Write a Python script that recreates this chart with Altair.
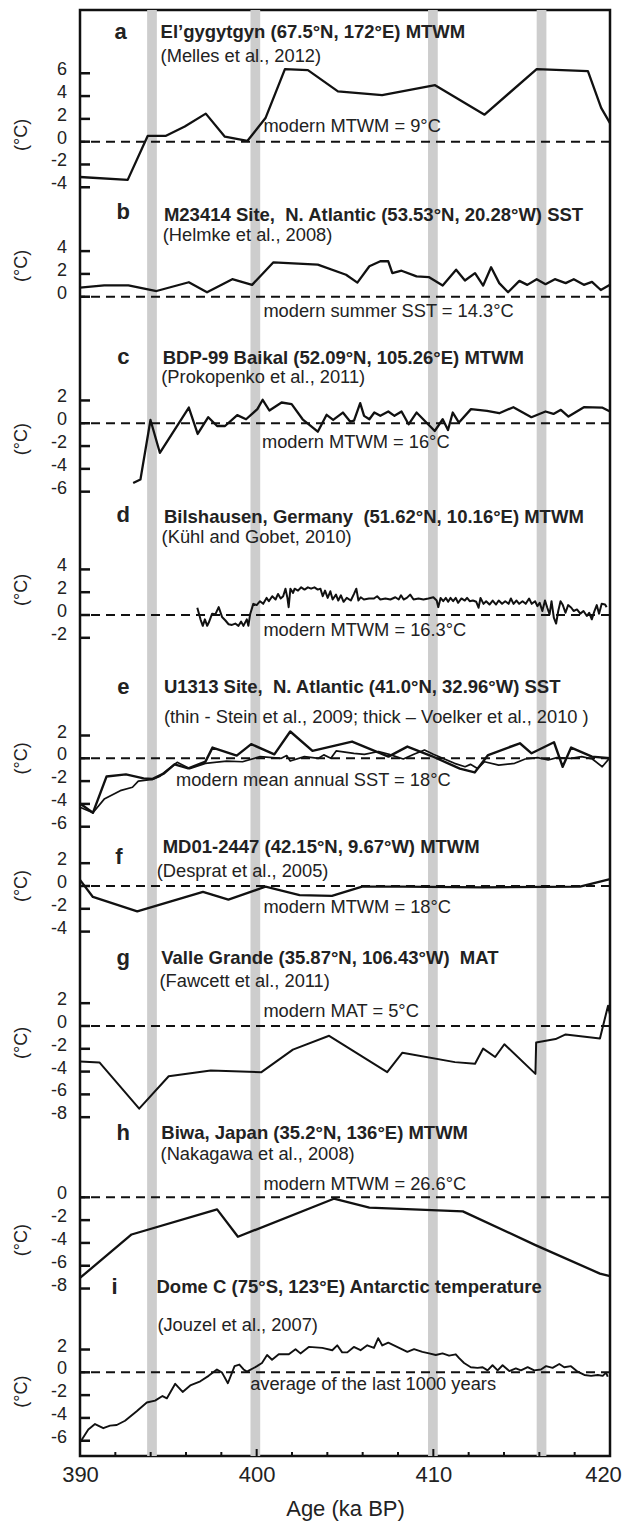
import altair as alt
import pandas as pd

# ---------------- data (age in ka BP, anomaly in °C) ----------------
a_age = [390.0, 392.7, 393.83, 394.84, 395.93, 397.12, 398.2, 399.47, 400.5, 401.6, 402.9, 404.6, 407.1, 410.1, 412.9, 415.85, 418.75, 419.5, 420.0]
a_val = [-3.1, -3.35, 0.5, 0.5, 1.33, 2.46, 0.44, 0.06, 2.07, 6.37, 6.28, 4.41, 4.09, 4.95, 2.37, 6.37, 6.19, 2.96, 1.63]

b_age = [390.0, 391.37, 392.74, 394.33, 396.16, 397.19, 398.62, 399.74, 400.95, 403.46, 405.06, 405.7, 406.38, 407.0, 407.45, 407.68, 408.2, 409.05, 409.74, 410.53, 411.29, 411.79, 412.36, 412.82, 413.27, 413.73, 414.23, 414.87, 415.32, 415.85, 416.35, 416.88, 417.49, 417.95, 418.52, 418.98, 419.48, 420.0]
b_val = [0.8, 1.0, 1.0, 0.5, 1.27, 0.39, 1.54, 1.04, 3.02, 2.81, 1.93, 1.24, 2.67, 3.11, 3.11, 2.07, 2.28, 1.78, 1.72, 0.98, 2.37, 1.42, 2.07, 0.98, 2.58, 1.19, 0.39, 1.39, 1.04, 1.54, 1.1, 1.54, 1.19, 1.54, 1.04, 1.3, 0.59, 1.04]

c_age = [393.01, 393.42, 393.99, 394.52, 396.16, 396.66, 397.26, 397.76, 398.21, 398.9, 399.4, 400.04, 400.34, 400.72, 401.41, 401.98, 402.6, 403.46, 403.96, 404.33, 404.88, 405.29, 405.51, 405.86, 406.08, 406.38, 406.66, 407.0, 407.45, 407.8, 408.2, 408.6, 409.05, 410.08, 410.53, 410.83, 411.1, 411.45, 412.13, 413.04, 413.73, 414.53, 415.55, 416.35, 416.8, 417.22, 417.65, 418.52, 419.55, 420.0]
c_val = [-5.24, -4.94, 0.29, -2.59, 1.38, -0.94, 0.53, -0.24, -0.24, 0.71, 0.35, 1.24, 2.06, 1.12, 1.82, 1.68, 0.35, -0.74, 0.74, 0.29, 0.94, 0.15, 0.24, 1.76, 0.65, 0.35, 0.94, 0.65, 1.03, 0.65, 1.03, -0.09, 0.94, -0.68, 0.35, -0.59, 0.94, 0.06, 1.24, 1.09, 0.88, 1.41, 0.53, 1.03, 0.82, 1.18, 0.59, 1.41, 1.38, 1.03]

d_age = [396.64, 396.82, 396.95, 397.07, 397.2, 397.29, 397.48, 397.66, 397.85, 398.04, 398.22, 398.41, 398.6, 398.79, 398.97, 399.12, 399.25, 399.44, 399.53, 399.63, 399.81, 400.0, 400.19, 400.37, 400.56, 400.69, 400.88, 401.07, 401.21, 401.36, 401.5, 401.63, 401.74, 401.81, 401.91, 402.06, 402.15, 402.34, 402.52, 402.71, 402.9, 403.08, 403.27, 403.46, 403.61, 403.74, 403.87, 404.02, 404.17, 404.3, 404.49, 404.62, 404.77, 404.92, 405.1, 405.33, 405.51, 405.64, 405.76, 405.89, 406.07, 406.36, 406.64, 406.82, 407.0, 407.29, 407.57, 407.85, 408.04, 408.17, 408.32, 408.5, 408.69, 408.88, 409.16, 409.44, 409.72, 410.0, 410.19, 410.28, 410.41, 410.56, 410.71, 410.84, 410.97, 411.12, 411.27, 411.4, 411.59, 411.78, 411.91, 412.06, 412.24, 412.43, 412.56, 412.67, 412.84, 412.99, 413.18, 413.36, 413.55, 413.7, 413.89, 414.07, 414.26, 414.39, 414.54, 414.71, 414.86, 415.05, 415.23, 415.42, 415.57, 415.76, 415.89, 416.02, 416.17, 416.32, 416.45, 416.58, 416.69, 416.82, 416.95, 417.07, 417.2, 417.33, 417.48, 417.63, 417.81, 417.94, 418.13, 418.32, 418.5, 418.69, 418.82, 418.97, 419.12, 419.25, 419.38, 419.53, 419.72, 419.81]
d_val = [0.64, -0.38, -0.95, -0.38, -0.95, -0.66, 0.12, 0.06, 0.69, -0.17, -0.46, -0.81, -0.87, -0.75, -0.95, -0.58, -0.95, -0.38, -0.95, 0.06, 0.98, 0.87, 1.21, 0.98, 1.5, 1.21, 1.65, 1.36, 1.85, 1.45, 1.65, 2.31, 1.5, 0.69, 2.31, 1.94, 2.31, 2.14, 2.43, 2.23, 2.43, 2.31, 2.43, 2.23, 2.31, 1.65, 2.14, 1.5, 2.08, 1.36, 1.79, 1.27, 1.73, 1.16, 1.5, 1.27, 1.85, 2.31, 1.27, 1.56, 1.36, 1.45, 1.45, 1.65, 1.36, 1.45, 1.36, 1.56, 1.36, 1.73, 1.36, 1.5, 1.79, 1.36, 1.45, 1.36, 1.45, 1.56, 1.27, 0.69, 1.5, 1.21, 1.5, 1.16, 1.5, 1.21, 1.5, 1.07, 1.45, 1.27, 1.5, 1.21, 1.27, 1.16, 0.64, 1.5, 0.98, 1.21, 0.92, 1.27, 0.92, 1.27, 0.98, 1.21, 0.98, 1.45, 0.98, 1.27, 0.98, 1.21, 0.98, 1.45, 0.98, 1.21, 0.78, 1.07, 0.35, 1.27, 0.64, 0.06, 1.21, -0.23, -0.75, 0.35, 1.21, 0.87, 0.2, 0.87, 0.64, 0.35, 0.49, 0.12, 0.35, -0.09, 0.2, -0.38, 0.35, 0.87, 0.12, 0.98, 0.92, 0.69]

e_thick_age = [390.0, 390.73, 391.5, 392.6, 393.6, 394.08, 394.76, 395.35, 396.13, 397.1, 397.5, 398.87, 399.69, 401.0, 401.9, 403.16, 405.4, 407.46, 408.53, 409.9, 411.5, 412.34, 413.1, 414.9, 415.56, 416.83, 417.32, 417.8, 418.98, 420.0]
e_thick_val = [-3.97, -4.78, -1.6, -1.41, -1.76, -1.82, -1.32, -0.53, -0.88, -0.29, 0.94, 0.24, 1.24, 0.35, 2.35, 0.65, 1.47, 0.15, 1.03, 0.2, -0.9, -1.24, 0.29, 1.32, 0.44, 1.41, -0.74, 0.94, 0.15, 0.0]
e_thin_age = [390.0, 390.73, 391.37, 392.28, 392.97, 393.3, 394.1, 394.5, 394.8, 395.5, 396.2, 397.1, 398.3, 399.2, 400.2, 401.4, 401.7, 401.9, 402.7, 403.5, 403.8, 404.2, 404.5, 405.5, 406.1, 406.9, 407.5, 408.3, 408.9, 409.5, 410.0, 411.2, 411.8, 412.1, 412.5, 412.9, 413.7, 414.6, 415.2, 415.9, 416.5, 417.0, 417.8, 418.4, 419.0, 419.56, 420.0]
e_thin_val = [-4.3, -4.78, -3.58, -2.84, -2.54, -2.0, -1.85, -1.6, -1.2, -0.35, -0.9, -0.44, -0.24, -0.3, 0.15, 0.0, 0.24, -0.24, 0.15, 0.0, 0.3, 0.0, 0.65, 0.44, 0.35, 0.6, 0.35, -0.06, 0.35, 0.73, 0.35, -0.44, -0.74, -0.53, -0.9, -0.3, -0.6, -0.44, -0.06, 0.06, -0.15, 0.06, 0.0, 0.15, -0.06, -0.74, 0.06]

f_age = [390.0, 390.73, 393.24, 396.96, 398.4, 400.5, 402.43, 404.26, 405.97, 408.25, 412.8, 418.3, 420.0]
f_val = [0.54, -0.96, -2.23, -0.51, -1.2, -0.06, -0.81, -0.87, -0.06, -0.06, -0.12, -0.06, 0.6]

g_age = [390.0, 391.1, 393.35, 395.02, 397.4, 400.27, 402.05, 404.1, 407.39, 408.25, 411.22, 412.36, 412.82, 413.5, 414.02, 415.78, 415.82, 416.92, 417.49, 419.43, 419.89, 420.0]
g_val = [-3.11, -3.2, -7.25, -4.41, -3.9, -4.05, -2.07, -0.86, -4.05, -2.34, -3.17, -3.31, -1.98, -2.72, -1.6, -4.2, -1.45, -1.15, -0.74, -1.09, 1.78, 1.0]

h_age = [390.0, 392.92, 397.76, 398.94, 404.37, 406.38, 411.67, 415.78, 419.43, 420.0]
h_val = [-7.07, -3.26, -1.06, -3.46, -0.12, -0.91, -1.23, -4.19, -6.69, -6.92]

i_age = [390.09, 390.47, 390.85, 391.32, 391.7, 392.08, 392.55, 393.21, 393.78, 394.25, 394.67, 394.92, 395.39, 395.81, 396.24, 396.81, 397.28, 397.75, 398.04, 398.37, 398.75, 399.02, 399.26, 399.45, 400.02, 400.3, 400.59, 400.87, 401.25, 401.82, 402.2, 402.48, 402.95, 403.71, 404.28, 404.56, 404.84, 405.13, 405.5, 405.88, 406.26, 406.64, 406.88, 407.11, 407.45, 407.77, 408.15, 408.53, 408.91, 409.38, 409.76, 410.14, 410.52, 410.89, 411.27, 411.46, 411.74, 412.12, 412.5, 412.79, 413.07, 413.35, 413.64, 413.92, 414.3, 414.67, 414.96, 415.34, 415.71, 416.09, 416.38, 416.75, 417.13, 417.41, 417.79, 418.17, 418.55, 418.93, 419.31, 419.59, 419.78, 419.87]
i_val = [-5.94, -5.01, -4.54, -4.9, -4.68, -4.62, -4.25, -3.41, -2.65, -2.48, -2.08, -2.28, -1.01, -1.72, -1.15, -0.79, -0.31, 0.25, -0.03, -0.96, 0.54, 0.68, 0.25, 0.06, 0.54, 0.82, 1.52, 1.1, 1.58, 1.58, 2.03, 1.66, 2.23, 2.14, 1.94, 2.37, 1.75, 1.75, 2.23, 1.94, 2.37, 2.14, 3.0, 2.36, 2.6, 2.37, 2.08, 1.8, 2.03, 1.8, 1.66, 1.52, 1.66, 1.46, 1.58, 1.24, 0.82, 0.45, 0.39, 0.45, 0.17, 0.62, 0.17, 0.62, 0.11, 0.34, 0.17, 0.45, 0.17, 0.25, 0.54, 0.39, 0.73, 0.45, 0.54, 0.06, -0.23, -0.31, -0.23, -0.31, -0.03, -0.39]

band_start = [393.8, 399.65, 409.7, 415.85]
band_end = [394.35, 400.2, 410.25, 416.4]

panels = ["a", "b", "c", "d", "e", "f", "g", "h", "i"]
titles = [
    "El\u2019gygytgyn (67.5°N, 172°E) MTWM",
    "M23414 Site,\u00a0 N. Atlantic (53.53°N, 20.28°W) SST",
    "BDP-99 Baikal (52.09°N, 105.26°E) MTWM",
    "Bilshausen, Germany\u00a0 (51.62°N, 10.16°E) MTWM",
    "U1313 Site,\u00a0 N. Atlantic (41.0°N, 32.96°W) SST",
    "MD01-2447 (42.15°N, 9.67°W) MTWM",
    "Valle Grande (35.87°N, 106.43°W)\u00a0 MAT",
    "Biwa, Japan (35.2°N, 136°E) MTWM",
    "Dome C (75°S, 123°E) Antarctic temperature",
]
refs = [
    "(Melles et al., 2012)",
    "(Helmke et al., 2008)",
    "(Prokopenko et al., 2011)",
    "(Kühl and Gobet, 2010)",
    "(thin - Stein et al., 2009; thick \u2013 Voelker et al., 2010 )",
    "(Desprat et al., 2005)",
    "(Fawcett et al., 2011)",
    "(Nakagawa et al., 2008)",
    "(Jouzel et al., 2007)",
]
moderns = [
    "modern MTWM = 9°C",
    "modern summer SST = 14.3°C",
    "modern MTWM = 16°C",
    "modern MTWM = 16.3°C",
    "modern mean annual SST = 18°C",
    "modern MTWM = 18°C",
    "modern MAT = 5°C",
    "modern MTWM = 26.6°C",
    "average of the last 1000 years",
]
ticks = {
    "a": [-4, -2, 0, 2, 4, 6],
    "b": [0, 2, 4],
    "c": [-6, -4, -2, 0, 2],
    "d": [-2, 0, 2, 4],
    "e": [-6, -4, -2, 0, 2],
    "f": [-4, -2, 0, 2],
    "g": [-8, -6, -4, -2, 0, 2],
    "h": [-8, -6, -4, -2, 0],
    "i": [-6, -4, -2, 0, 2],
}
x_major = [390, 400, 410, 420]
x_minor = [392, 394, 396, 398, 402, 404, 406, 408, 412, 414, 416, 418]

# ---------------- layout (stacking of the panels) ----------------
W, H = 530, 1446
Y_TOP = 126.84  # global stacked units (1 unit = 1 °C)
zero = {"a": 115.29, "b": 101.69, "c": 90.59, "d": 73.77, "e": 61.20,
        "f": 50.0, "g": 37.72, "h": 22.69, "i": 7.34}
title_y = {"a": 9.65, "b": 7.2, "c": 5.73, "d": 8.62, "e": 6.28, "f": 3.45, "g": 5.94, "h": 5.61, "i": 7.45}
letter_y = {"a": 9.65, "b": 7.4, "c": 5.84, "d": 8.77, "e": 6.28, "f": 2.57, "g": 5.94, "h": 5.61, "i": 7.45}
ref_y = {"a": 7.45, "b": 5.3, "c": 3.95, "d": 6.73, "e": 3.51, "f": 1.25, "g": 3.89, "h": 3.71, "i": 4.1}
mod_y = {"a": 1.32, "b": -1.32, "c": -1.75, "d": -1.38, "e": -1.96, "f": -1.96, "g": 1.25, "h": 1.08, "i": -1.11}
deg_y = {"a": 0.59, "b": 2.7, "c": -1.4, "d": 2.2, "e": 0.0, "f": 0.0, "g": -1.49, "h": -3.75, "i": -1.7}
title_x = {"a": 394.56, "b": 394.75, "c": 394.68, "d": 394.75, "e": 394.75, "f": 394.68, "g": 394.6, "h": 394.6, "i": 394.33}
ref_x = {"a": 394.56, "b": 394.68, "c": 394.6, "d": 394.62, "e": 394.75, "f": 394.34, "g": 394.5, "h": 394.56, "i": 394.38}
mod_x = {"a": 400.38, "b": 400.38, "c": 400.3, "d": 400.38, "e": 395.43, "f": 400.38, "g": 400.38, "h": 400.38, "i": 399.63}
letter_x = {"a": 392.3, "b": 392.45, "c": 392.45, "d": 392.45, "e": 392.45, "f": 392.2, "g": 392.45, "h": 392.45, "i": 391.95}

series = [
    ("a", a_age, a_val, "a", 2.3),
    ("b", b_age, b_val, "b", 2.3),
    ("c", c_age, c_val, "c", 2.3),
    ("d", d_age, d_val, "d", 2.0),
    ("e_thick", e_thick_age, e_thick_val, "e", 2.4),
    ("e_thin", e_thin_age, e_thin_val, "e", 1.7),
    ("f", f_age, f_val, "f", 2.3),
    ("g", g_age, g_val, "g", 2.0),
    ("h", h_age, h_val, "h", 2.3),
    ("i", i_age, i_val, "i", 1.9),
]
rows = []
for name, xs_, vs, p, w in series:
    for x, v in zip(xs_, vs):
        rows.append({"age": x, "y": zero[p] + v, "series": name, "w": w})
lines_df = pd.DataFrame(rows)

bands_df = pd.DataFrame({"x0": band_start, "x1": band_end})
zero_df = pd.DataFrame({"y": [zero[p] for p in panels]})

tick_rows = []
for p in panels:
    for t in ticks[p]:
        tick_rows.append({"g": zero[p] + t, "label": str(t)})
ytick_df = pd.DataFrame(tick_rows)

major_df = pd.DataFrame({"age": x_major})
minor_df = pd.DataFrame({"age": x_minor})

ann = pd.DataFrame({
    "panel": panels,
    "title": titles,
    "ref": refs,
    "modern": moderns,
    "ty": [zero[p] + title_y[p] for p in panels],
    "ly": [zero[p] + letter_y[p] for p in panels],
    "ry": [zero[p] + ref_y[p] for p in panels],
    "my": [zero[p] + mod_y[p] for p in panels],
    "dy": [zero[p] + deg_y[p] for p in panels],
    "tx": [title_x[p] for p in panels],
    "rx": [ref_x[p] for p in panels],
    "mx": [mod_x[p] for p in panels],
    "lx": [letter_x[p] for p in panels],
    "deg": ["(°C)"] * 9,
})

FONT = "Liberation Sans"
INK = "#222"
xs = alt.Scale(domain=[390, 420], nice=False, zero=False)
ys = alt.Scale(domain=[0, Y_TOP], nice=False, zero=False)

x_axis = alt.Axis(values=x_major, format="d", ticks=False, tickSize=0, domain=False,
                  grid=False, labelFontSize=22, labelPadding=8, labelFont=FONT, labelColor=INK,
                  labelOverlap=False, labelFlush=False,
                  labelOffset={"condition": {"test": "datum.value == 420", "value": -7}, "value": 0},
                  title="Age (ka BP)", titleFontSize=22, titleFontWeight="normal", titleFont=FONT,
                  titlePadding=13, titleColor=INK)


def X(field):
    return alt.X(field, type="quantitative", scale=xs, axis=x_axis)


def Y(field):
    return alt.Y(field, type="quantitative", scale=ys, axis=None)


bands = alt.Chart(bands_df).mark_rect(color="#cdcdcd").encode(x=X("x0"), x2="x1:Q")

zero_lines = alt.Chart(zero_df).mark_rule(color="#111", strokeWidth=2, strokeDash=[9, 6]).encode(
    y=Y("y"))

lines = alt.Chart(lines_df).mark_line(color="#111", strokeJoin="round").encode(
    x=X("age"), y=Y("y"),
    detail="series:N",
    strokeWidth=alt.StrokeWidth("w:Q", scale=None),
    order="age:Q",
)

# inward y ticks and their labels (one small axis per panel)
yticks = alt.Chart(ytick_df).mark_rule(color="#111", strokeWidth=2.5).encode(
    y=Y("g"), x=alt.value(0), x2=alt.value(10))
ylabels = alt.Chart(ytick_df).mark_text(font=FONT, fontSize=18, align="right", baseline="middle",
                                        color=INK, dx=-13, dy=-3).encode(
    y=Y("g"), x=alt.value(0), text="label:N")

xticks_major = alt.Chart(major_df).mark_rule(color="#111", strokeWidth=2).encode(
    x=X("age"), y=alt.value(H), y2=alt.value(H - 7))
xticks_minor = alt.Chart(minor_df).mark_rule(color="#111", strokeWidth=2).encode(
    x=X("age"), y=alt.value(H), y2=alt.value(H - 4))

letters = alt.Chart(ann).mark_text(font=FONT, fontSize=22, fontWeight="bold", align="center",
                                   baseline="middle", color=INK).encode(
    x=X("lx"), y=Y("ly"), text="panel:N")
title_text = alt.Chart(ann).mark_text(font=FONT, fontSize=18.5, fontWeight="bold", align="left",
                                      baseline="middle", color=INK).encode(
    x=X("tx"), y=Y("ty"), text="title:N")
ref_text = alt.Chart(ann).mark_text(font=FONT, fontSize=18.3, align="left",
                                    baseline="middle", color=INK).encode(
    x=X("rx"), y=Y("ry"), text="ref:N")
mod_text = alt.Chart(ann).mark_text(font=FONT, fontSize=18.3, align="left",
                                    baseline="middle", color=INK).encode(
    x=X("mx"), y=Y("my"), text="modern:N")
deg_text = alt.Chart(ann).mark_text(font=FONT, fontSize=18, align="center", angle=270,
                                    baseline="middle", color=INK, dy=-58).encode(
    x=alt.value(0), y=Y("dy"), text="deg:N")

chart = alt.layer(bands, zero_lines, lines, yticks, ylabels, xticks_major, xticks_minor, letters,
                  title_text, ref_text, mod_text, deg_text).properties(
    width=W, height=H,
    autosize=alt.AutoSizeParams(type="none"),
    padding={"left": 72, "top": 2, "right": 12, "bottom": 69},
    background="white",
).configure_view(stroke="#111", strokeWidth=2.5)

chart.save("out.html", embed_options={"renderer": "svg", "actions": False})
